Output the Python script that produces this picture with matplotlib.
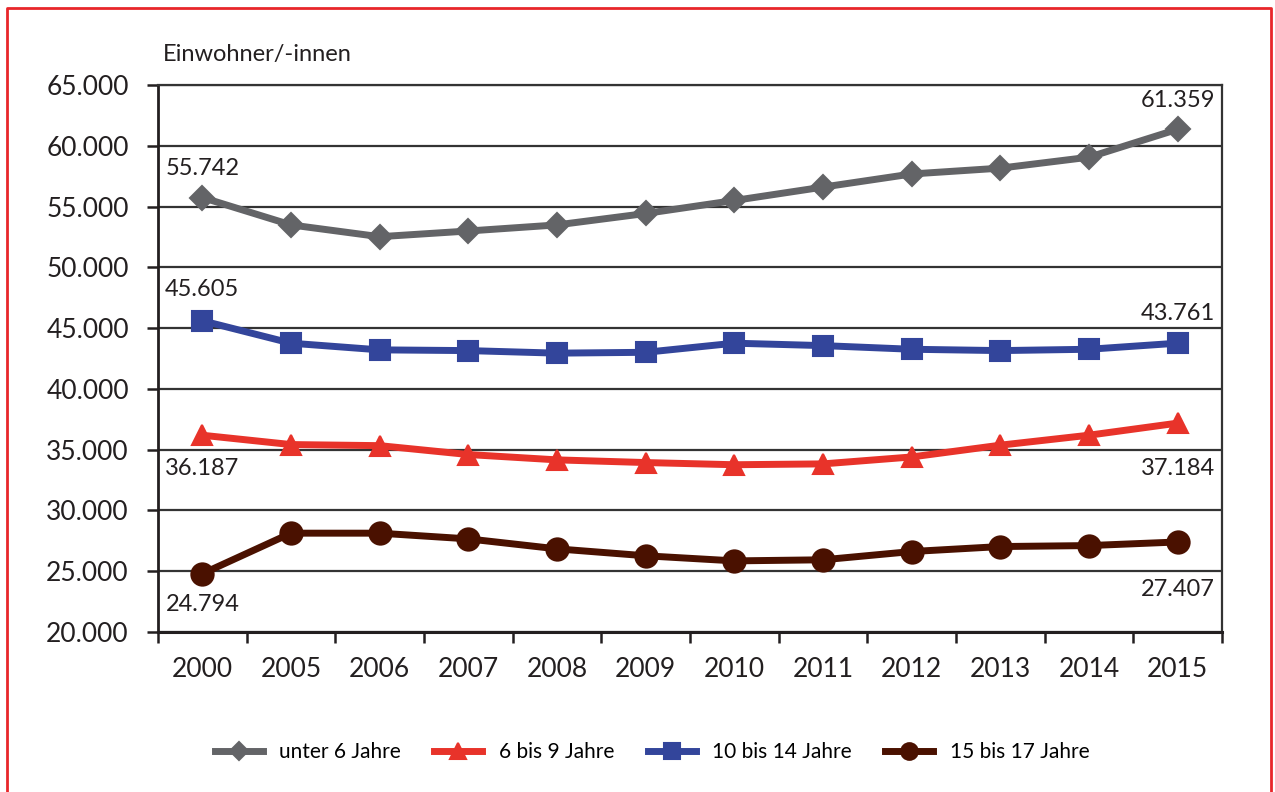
import numpy as np
import matplotlib
matplotlib.use("Agg")
from matplotlib import pyplot as plt
from matplotlib.lines import Line2D

plt.rcParams['font.family'] = ['Lato', 'DejaVu Sans']

years = ['2000', '2005', '2006', '2007', '2008', '2009', '2010', '2011', '2012', '2013', '2014', '2015']
unter_6 = [55742, 53490, 52520, 52990, 53490, 54430, 55500, 56600, 57680, 58160, 59060, 61359]
bis_9 = [36187, 35420, 35330, 34600, 34160, 33940, 33760, 33830, 34400, 35370, 36190, 37184]
bis_14 = [45605, 43760, 43210, 43150, 42940, 43010, 43760, 43560, 43260, 43150, 43260, 43761]
bis_17 = [24794, 28130, 28130, 27660, 26840, 26270, 25850, 25940, 26620, 27030, 27110, 27407]

series_names = ['unter 6 Jahre', '6 bis 9 Jahre', '10 bis 14 Jahre', '15 bis 17 Jahre']
colors = ['#636467', '#e8332a', '#33459b', '#4a1100']
markers = ['D', '^', 's', 'o']
msizes = [12, 15, 15, 16]

yticks = np.arange(20000, 65001, 5000)

def fmt(v):
    return '{:,}'.format(int(v)).replace(',', '.')

fig = plt.figure(figsize=(12.75, 7.92), dpi=100)
ax = fig.add_axes([158/1275, 1-632/792, (1222-158)/1275, (632-85)/792])

x = np.arange(len(years))
all_series = [unter_6, bis_9, bis_14, bis_17]
for vals, name, c, m, ms in zip(all_series, series_names, colors, markers, msizes):
    ax.plot(x, vals, color=c, lw=5, marker=m, ms=ms, mfc=c, mec=c, mew=1.5,
            solid_joinstyle='round', label=name, zorder=3)

# data labels at first and last point (offsets in pixels)
label_offsets = [(29, 29), (-33, -45), (31, 30), (-31, -48)]
for vals, (off0, off1) in zip(all_series, label_offsets):
    for idx, off in ((0, off0), (len(vals)-1, off1)):
        ax.annotate(fmt(vals[idx]), xy=(x[idx], vals[idx]), xytext=(0, off),
                    textcoords='offset pixels', ha='center', va='center',
                    fontsize=17, color='#231f20', zorder=4)

ax.set_xlim(-0.5, len(years)-0.5)
ax.set_ylim(20000, 65000)
ax.set_yticks(yticks)
ax.set_yticklabels([fmt(v) for v in yticks])
ax.set_xticks(x)
ax.set_xticklabels(years)
ax.set_xticks(np.arange(-0.5, len(years)), minor=True)
ax.tick_params(axis='x', which='major', length=0, pad=18, labelsize=19, labelcolor='#231f20')
ax.tick_params(axis='x', which='minor', length=8, width=1.8, color='#231f20', direction='out')
ax.tick_params(axis='y', length=8, width=1.8, color='#231f20', pad=13, labelsize=19, labelcolor='#231f20')

ax.grid(axis='y', color='#333333', lw=1.6, zorder=1)
for s in ax.spines.values():
    s.set_color('#333333')
    s.set_linewidth(1.6)
ax.spines['left'].set_color('#231f20')
ax.spines['left'].set_linewidth(2)
ax.spines['bottom'].set_color('#231f20')
ax.spines['bottom'].set_linewidth(2.2)

fig.text(163/1275, 1-55/792, 'Einwohner/-innen', fontsize=17, color='#231f20', ha='left', va='center')

fig.legend(loc='center', bbox_to_anchor=(652/1275, 1-752/792), ncol=4, frameon=False,
           fontsize=15, markerscale=0.75, handlelength=2.3, columnspacing=1.6, handletextpad=0.8)

# red frame around the figure
red = '#e8262a'
fig.add_artist(Line2D([7/1275, 7/1275, 1271/1275, 1271/1275], [0, 1-8/792, 1-8/792, 0],
                      transform=fig.transFigure, color=red, lw=2))

fig.savefig('out.png', dpi=100)
